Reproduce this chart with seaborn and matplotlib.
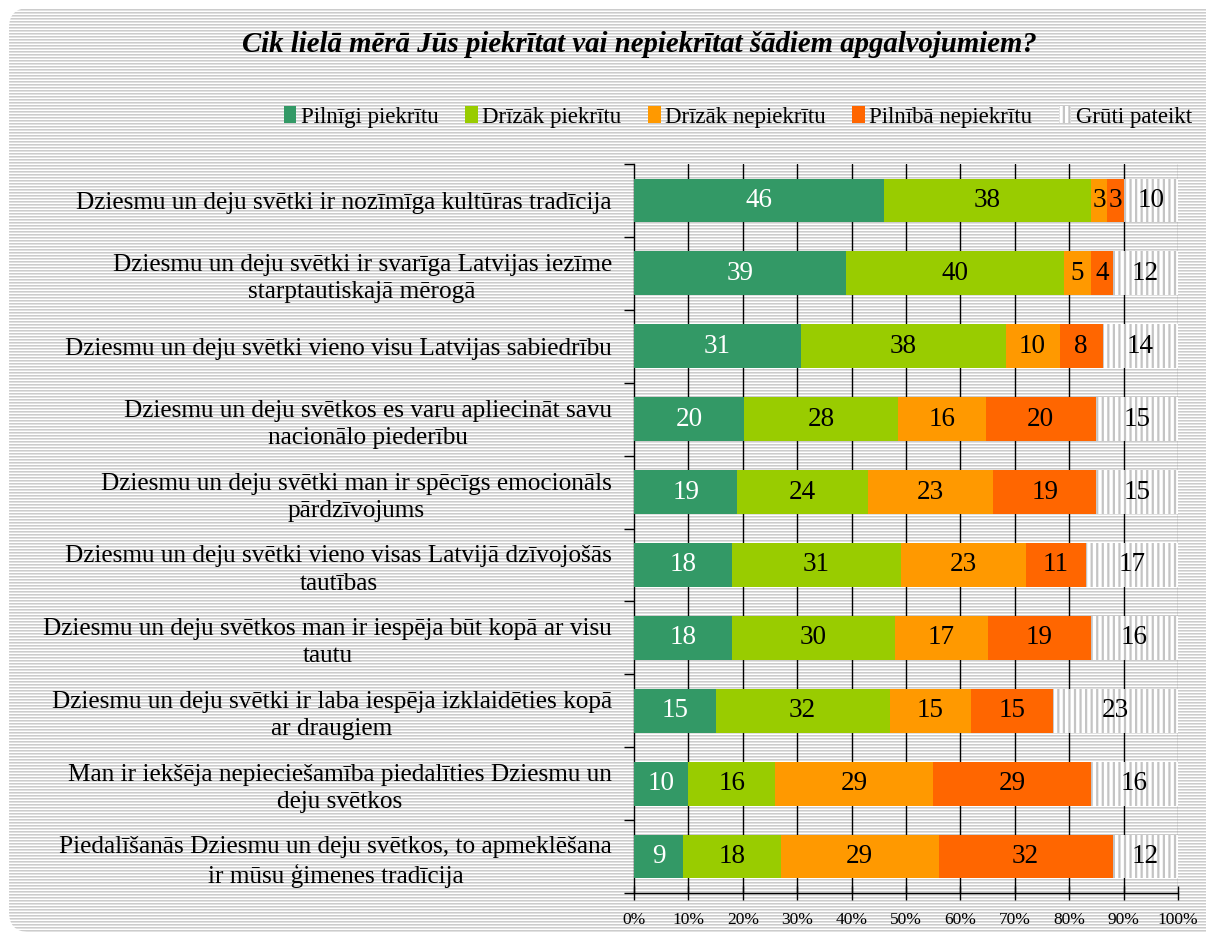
import numpy as np
import pandas as pd
import matplotlib
matplotlib.use("Agg")
import matplotlib.pyplot as plt
from matplotlib.patches import Patch, FancyBboxPatch
import seaborn as sns

categories = [
    "Dziesmu un deju svētki ir nozīmīga kultūras tradīcija",
    "Dziesmu un deju svētki ir svarīga Latvijas iezīme\nstarptautiskajā mērogā",
    "Dziesmu un deju svētki vieno visu Latvijas sabiedrību",
    "Dziesmu un deju svētkos es varu apliecināt savu\nnacionālo piederību",
    "Dziesmu un deju svētki man ir spēcīgs emocionāls\npārdzīvojums",
    "Dziesmu un deju svētki vieno visas Latvijā dzīvojošās\ntautības",
    "Dziesmu un deju svētkos man ir iespēja būt kopā ar visu\ntautu",
    "Dziesmu un deju svētki ir laba iespēja izklaidēties kopā\nar draugiem",
    "Man ir iekšēja nepieciešamība piedalīties Dziesmu un\ndeju svētkos",
    "Piedalīšanās Dziesmu un deju svētkos, to apmeklēšana\nir mūsu ģimenes tradīcija",
]
series_names = ["Pilnīgi piekrītu", "Drīzāk piekrītu", "Drīzāk nepiekrītu",
                "Pilnībā nepiekrītu", "Grūti pateikt"]
pilnigi_piekritu = [46, 39, 31, 20, 19, 18, 18, 15, 10, 9]
drizak_piekritu = [38, 40, 38, 28, 24, 31, 30, 32, 16, 18]
drizak_nepiekritu = [3, 5, 10, 16, 23, 23, 17, 15, 29, 29]
pilniba_nepiekritu = [3, 4, 8, 20, 19, 11, 19, 15, 29, 32]
gruti_pateikt = [10, 12, 14, 15, 15, 17, 16, 23, 16, 12]
x_ticks = [0, 10, 20, 30, 40, 50, 60, 70, 80, 90, 100]
title = "Cik lielā mērā Jūs piekrītat vai nepiekrītat šādiem apgalvojumiem?"

colors = ["#339966", "#99CC00", "#FF9900", "#FF6600", "#FFFFFF"]
label_colors = ["white", "black", "black", "black", "black"]

sns.set_theme(style="white")
plt.rcParams["font.family"] = ["Liberation Serif", "DejaVu Serif"]
plt.rcParams["hatch.linewidth"] = 1.6
plt.rcParams["text.color"] = "black"
plt.rcParams["xtick.color"] = "black"
plt.rcParams["ytick.color"] = "black"
plt.rcParams["xtick.labelcolor"] = "black"
plt.rcParams["ytick.labelcolor"] = "black"

vals = np.array([pilnigi_piekritu, drizak_piekritu, drizak_nepiekritu,
                 pilniba_nepiekritu, gruti_pateikt], dtype=float)
pct = vals / vals.sum(axis=0) * 100.0
cum = np.cumsum(pct, axis=0)

W, H = 1206, 942
fig = plt.figure(figsize=(W / 100, H / 100), dpi=100, facecolor="white")

# striped background inside rounded frame
bg = fig.add_axes([0, 0, 1, 1], zorder=-10)
bg.set_xlim(0, W)
bg.set_ylim(H, 0)
bg.axis("off")
pattern = np.array([0.80, 0.88, 1.0])
rows = np.tile(pattern, H // 3 + 1)[:H]
img = np.repeat(rows[:, None], 4, axis=1)
im = bg.imshow(img, cmap="gray", vmin=0, vmax=1, extent=(0, W, H, 0),
               aspect="auto", interpolation="nearest")
frame = FancyBboxPatch((9 + 20, 8 + 20), W + 40, H - 10 - 8 - 40,
                       boxstyle="round,pad=20", facecolor="none",
                       edgecolor="none", transform=bg.transData)
bg.add_patch(frame)
im.set_clip_path(frame)

ax = fig.add_axes([634 / W, 1 - 893 / H, (1178 - 634) / W, (893 - 164) / H])
ax.set_facecolor("none")

df = pd.DataFrame({"category": categories})
for k in range(4, -1, -1):
    df["cum"] = cum[k]
    n_before = len(ax.patches)
    sns.barplot(data=df, x="cum", y="category", orient="h", color=colors[k],
                saturation=1, width=0.6, ax=ax, zorder=3)
    if k == 4:
        for p in ax.patches[n_before:]:
            p.set_hatch("|||")
            p.set_edgecolor("#c4c4c4")
            p.set_linewidth(0)
    else:
        for p in ax.patches[n_before:]:
            p.set_linewidth(0)

for k in range(5):
    for i in range(len(categories)):
        xc = cum[k][i] - pct[k][i] / 2
        ax.text(xc, i, f"{int(vals[k][i])}", ha="center", va="center",
                color=label_colors[k], fontsize=19.5, zorder=5)

ax.set_xlim(0, 100)
ax.set_ylim(len(categories) - 0.5, -0.5)
ax.set_xticks(x_ticks)
ax.set_xticklabels([f"{t}%" for t in x_ticks], fontsize=12.5)
ax.set_xlabel("")
ax.set_ylabel("")
for t in x_ticks[1:-1]:
    ax.axvline(t, color="black", lw=1.0, zorder=1)
ax.axvline(100, color="#888888", lw=1.0, zorder=1)

ax.set_yticks(range(len(categories)))
ax.set_yticklabels(categories, fontsize=18.2, multialignment="center",
                   linespacing=1.3)
ax.set_yticks(np.arange(-0.5, len(categories), 1.0), minor=True)
ax.tick_params(axis="y", which="major", length=0, pad=16)
ax.tick_params(axis="y", which="minor", length=7, width=1, color="black",
               direction="out", left=True)
ax.tick_params(axis="x", which="major", length=10, width=1, color="black",
               direction="inout", pad=9, bottom=True)
for s in ["top", "right"]:
    ax.spines[s].set_visible(False)
for s in ["left", "bottom"]:
    ax.spines[s].set_visible(True)
    ax.spines[s].set_color("black")
    ax.spines[s].set_linewidth(1.0)

fig.text(639 / W, 1 - 45 / H, title, ha="center", va="center", fontsize=20.7,
         fontweight="bold", fontstyle="italic", color="black")

handles = [Patch(facecolor=c, edgecolor="none") for c in colors[:4]]
handles.append(Patch(facecolor="white", edgecolor="#c4c4c4", hatch="|||", linewidth=0))
fig.legend(handles, series_names, loc="center", ncol=5, frameon=False,
           bbox_to_anchor=(738 / W, 1 - 117 / H), fontsize=16.5,
           handlelength=0.55, handleheight=0.7, handletextpad=0.2,
           columnspacing=1.15, labelcolor="black")

fig.savefig("out.png", dpi=100, facecolor="white")
